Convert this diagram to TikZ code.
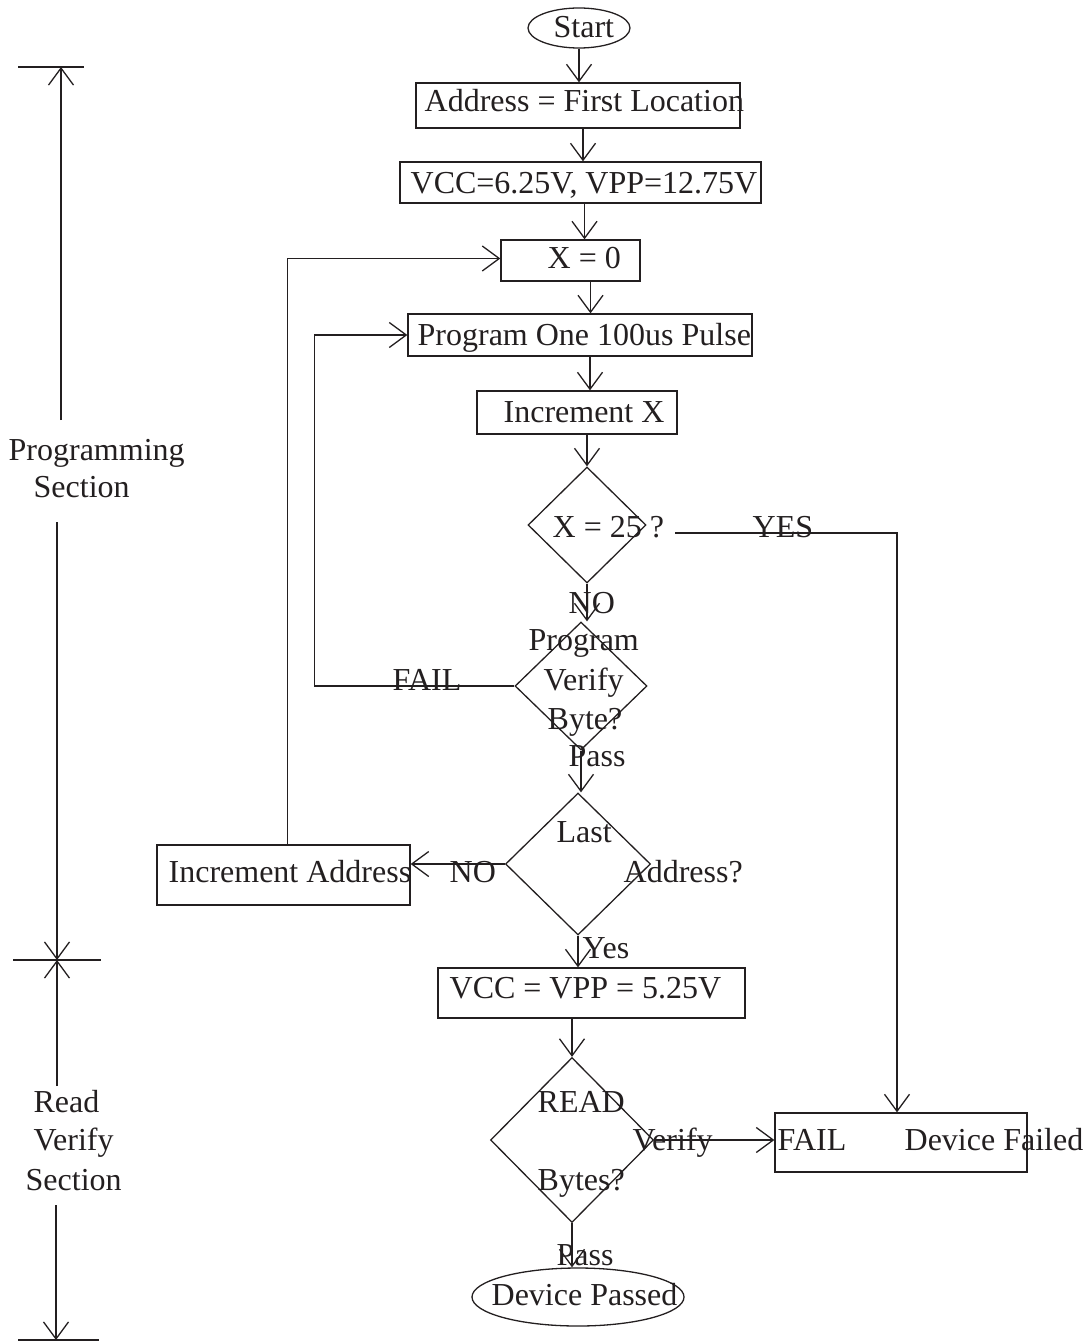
\documentclass[tikz,border=0pt]{standalone}
\usepackage{fontspec}
\setmainfont{Liberation Serif}
\usetikzlibrary{shapes.geometric,arrows.meta}
\definecolor{ink}{HTML}{231F20}
\begin{document}
\begin{tikzpicture}[x=0.5pt,y=-0.5pt,line width=0.65pt,draw=ink,text=ink,
  arr/.style={-{Straight Barb[length=8.5pt,width=12.5pt]}},
  box/.style={draw,rectangle,inner sep=0pt},
  dia/.style={draw,diamond,inner sep=0pt},
  ell/.style={draw,ellipse,inner sep=0pt},
  txt/.style={anchor=base west,inner sep=0pt,font=\fontsize{16}{19}\selectfont}]
\useasboundingbox (0,0) rectangle (1087,1343);
% shapes
\node[ell,minimum width=51pt,minimum height=20pt] (start) at (579,28) {};
\node[box,minimum width=162pt,minimum height=22.5pt] (addr) at (578,105.5) {};
\node[box,minimum width=180.5pt,minimum height=20.5pt] (vcc1) at (580.5,182.5) {};
\node[box,minimum width=69.5pt,minimum height=20.5pt] (x0) at (570.5,260.5) {};
\node[box,minimum width=172pt,minimum height=21pt] (prog) at (580,335) {};
\node[box,minimum width=100pt,minimum height=21.5pt] (incx) at (577,412.5) {};
\node[dia,minimum width=59pt,minimum height=58pt] (d1) at (587,525) {};
\node[dia,minimum width=66pt,minimum height=64pt] (d2) at (581,686) {};
\node[dia,minimum width=72.5pt,minimum height=71pt] (d3) at (578,864) {};
\node[box,minimum width=126.5pt,minimum height=30pt] (inca) at (283.5,875) {};
\node[box,minimum width=153.5pt,minimum height=25pt] (vcc2) at (591.5,993) {};
\node[dia,minimum width=81.5pt,minimum height=82.5pt] (d4) at (572,1140) {};
\node[box,minimum width=126pt,minimum height=29.5pt] (fail) at (901,1142.5) {};
\node[ell,minimum width=106pt,minimum height=29pt] (passed) at (578,1297) {};
% texts
\node[txt] (tstart) at (553,38) {Start};
\node[txt] (taddr) at (424,112) {Address = First Location};
\node[txt] (tvcc1) at (410,193) {VCC=6.25V, VPP=12.75V};
\node[txt] (tx0) at (547,268) {X = 0};
\node[txt] (tprog) at (417,345) {Program One 100us Pulse};
\node[txt] (tincx) at (503,422) {Increment X};
\node[txt] (td1) at (552,537) {X = 25 ?};
\node[txt] (tyes) at (752,537) {YES};
\node[txt] (tno1) at (568,613) {NO};
\node[txt] (td2a) at (528,650) {Program};
\node[txt] (td2b) at (543,690) {Verify};
\node[txt] (td2c) at (547,729) {Byte?};
\node[txt] (tfail1) at (392,690) {FAIL};
\node[txt] (tpass1) at (568,766) {Pass};
\node[txt] (td3a) at (556,842) {Last};
\node[txt] (td3b) at (623,882) {Address?};
\node[txt] (tinca) at (168,882) {Increment Address};
\node[txt] (tno2) at (449,882) {NO};
\node[txt] (tyes2) at (582,958) {Yes};
\node[txt] (tvcc2) at (449,998) {VCC = VPP = 5.25V};
\node[txt] (td4a) at (537,1112) {READ};
\node[txt] (td4b) at (632,1150) {Verify};
\node[txt] (td4c) at (537,1190) {Bytes?};
\node[txt] (tfail2) at (777,1150) {FAIL};
\node[txt] (tdevf) at (904,1150) {Device Failed};
\node[txt] (tpass2) at (556,1265) {Pass};
\node[txt] (tdevp) at (491,1305) {Device Passed};
% main connectors
\draw[arr] (start.south) -- (start.south |- addr.north);
\draw[arr] ([xshift=2.5pt]addr.south) -- ([xshift=2.5pt]addr.south |- vcc1.north);
\draw[arr] ([xshift=2pt]vcc1.south) -- ([xshift=2pt]vcc1.south |- x0.north);
\draw[arr] ([xshift=10pt]x0.south) -- ([xshift=10pt]x0.south |- prog.north);
\draw[arr] ([xshift=5pt]prog.south) -- ([xshift=5pt]prog.south |- incx.north);
\draw[arr] (d1.north |- incx.south) -- (d1.north);
\draw[arr] (d1.south) -- (d1.south |- d2.north);
\draw[arr] (d2.west) -- +(-200,0) |- (prog.west);
\draw[arr] (d2.south) -- (d2.south |- d3.north);
\draw[arr] (d3.west) -- (d3.west -| inca.east);
\draw[arr] ([xshift=2pt]inca.north) |- ([yshift=1pt]x0.west);
\draw[arr] (d3.south) -- (d3.south |- vcc2.north);
\draw[arr] (d4.north |- vcc2.south) -- (d4.north);
\draw[arr] (d4.east) -- (d4.east -| fail.west);
\draw[arr] (d4.south) -- (d4.south |- passed.north);
\coordinate (yesstart) at (675,533);
\draw[arr] (yesstart) -- ([xshift=-2pt]fail.north |- yesstart) -- ([xshift=-2pt]fail.north);
% side brackets
\coordinate (b1) at (61,67);
\coordinate (b2) at (57,960);
\coordinate (b3) at (56,1340);
\draw (18,67) -- (84,67);
\draw[arr] (61,420) -- (b1);
\node[txt] (tps1) at (8,460) {Programming};
\node[txt] (tps2) at (33,497) {Section};
\draw[arr] (57,522) -- (b2);
\draw (13,960) -- (101,960);
\draw[arr] (57,1086) -- (b2);
\node[txt] (trv1) at (33,1112) {Read};
\node[txt] (trv2) at (33,1150) {Verify};
\node[txt] (trv3) at (25,1190) {Section};
\draw[arr] (56,1205) -- (b3);
\draw (18,1340) -- (99,1340);
\end{tikzpicture}
\end{document}
